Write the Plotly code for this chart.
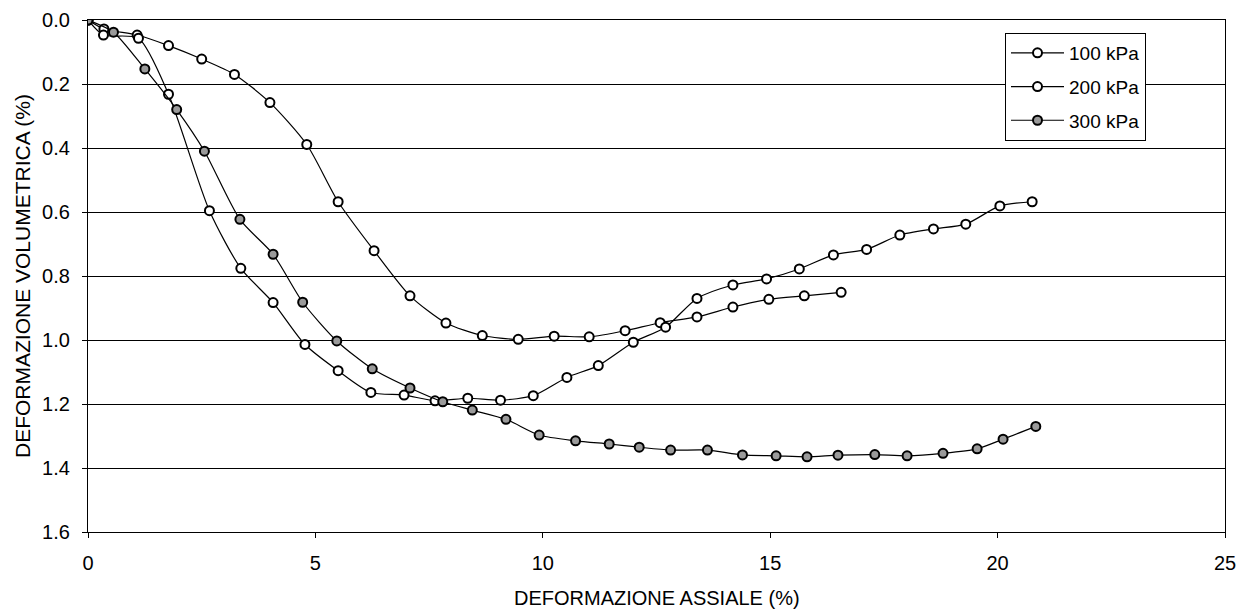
import plotly.graph_objects as go

# Data
x_100 = [0.0, 0.35, 1.08, 1.77, 2.50, 3.22, 4.00, 4.81, 5.50, 6.29, 7.08, 7.87, 8.67,
         9.46, 10.25, 11.02, 11.81, 12.58, 13.39, 14.18, 14.97, 15.75, 16.56]
y_100 = [0.0, 0.028, 0.047, 0.080, 0.122, 0.170, 0.258, 0.389, 0.568, 0.721, 0.862, 0.947, 0.986,
         0.998, 0.988, 0.990, 0.971, 0.946, 0.928, 0.897, 0.873, 0.862, 0.851]

x_200 = [0.0, 0.34, 1.11, 1.77, 2.67, 3.36, 4.07, 4.77, 5.50, 6.22, 6.95, 7.63, 8.35,
         9.07, 9.79, 10.53, 11.22, 11.99, 12.70, 13.39, 14.18, 14.92, 15.64, 16.39,
         17.12, 17.85, 18.59, 19.30, 20.05, 20.76]
y_200 = [0.0, 0.047, 0.057, 0.232, 0.596, 0.776, 0.883, 1.014, 1.096, 1.164, 1.172, 1.190, 1.182,
         1.188, 1.174, 1.117, 1.080, 1.007, 0.960, 0.870, 0.828, 0.809, 0.778, 0.734,
         0.717, 0.672, 0.653, 0.638, 0.581, 0.568]

x_300 = [0.0, 0.56, 1.25, 1.95, 2.56, 3.34, 4.07, 4.72, 5.47, 6.25, 7.08, 7.80, 8.45,
         9.19, 9.92, 10.72, 11.46, 12.12, 12.81, 13.62, 14.39, 15.13, 15.81, 16.49,
         17.30, 18.01, 18.80, 19.55, 20.12, 20.84]
y_300 = [0.0, 0.038, 0.153, 0.280, 0.410, 0.623, 0.732, 0.882, 1.003, 1.090, 1.150, 1.193, 1.219,
         1.248, 1.297, 1.315, 1.325, 1.335, 1.344, 1.344, 1.359, 1.362, 1.365, 1.360,
         1.358, 1.362, 1.354, 1.340, 1.310, 1.270]

series_names = ["100 kPa", "200 kPa", "300 kPa"]
x_ticks = [0, 5, 10, 15, 20, 25]
y_ticks = [0.0, 0.2, 0.4, 0.6, 0.8, 1.0, 1.2, 1.4, 1.6]
x_title = "DEFORMAZIONE ASSIALE (%)"
y_title = "DEFORMAZIONE VOLUMETRICA (%)"

FONT = "Liberation Sans, Arial, sans-serif"
# the page body has an 8px margin, so the figure is sized to fill the rest of the window
W, H = 1238, 603
ML, MR, MT, MB = 80, 21, 12, 79
PW, PH = W - ML - MR, H - MT - MB

fig = go.Figure()
data = [(x_100, y_100, "white"), (x_200, y_200, "white"), (x_300, y_300, "#9a9a9a")]
for name, (xs, ys, fill) in zip(series_names, data):
    fig.add_trace(go.Scatter(
        x=xs, y=ys, name=name, mode="lines+markers", legendgroup=name,
        line=dict(color="black", width=1.2, shape="spline", smoothing=0.7),
        marker=dict(symbol="circle", size=9, color=fill,
                    line=dict(color="black", width=2)),
    ))

fig.update_layout(
    width=W, height=H,
    margin=dict(l=ML, r=MR, t=MT, b=MB, autoexpand=False),
    paper_bgcolor="white", plot_bgcolor="white",
    font=dict(family=FONT, size=20, color="black"),
    showlegend=True,
    legend=dict(
        x=(997 - ML) / PW, y=1 - (25 - MT) / PH,
        xanchor="left", yanchor="top",
        bgcolor="white", bordercolor="black", borderwidth=1,
        font=dict(family=FONT, size=19, color="black"),
        tracegroupgap=6, itemwidth=53,
    ),
    xaxis=dict(
        range=[0, 25], tickvals=x_ticks, ticktext=[str(v) for v in x_ticks],
        showgrid=False, zeroline=False, automargin=False,
        showline=True, mirror=True, linecolor="black", linewidth=1.2,
        ticks="outside", ticklen=5, tickcolor="black",
        ticklabelstandoff=8,
        tickfont=dict(family=FONT, size=20),
    ),
    yaxis=dict(
        range=[1.6, 0], tickvals=y_ticks, ticktext=[f"{v:.1f}" for v in y_ticks],
        showgrid=True, gridcolor="black", gridwidth=1,
        zeroline=False, automargin=False,
        showline=True, mirror=True, linecolor="black", linewidth=1.2,
        ticks="outside", ticklen=5, tickcolor="black",
        ticklabelstandoff=8,
        tickfont=dict(family=FONT, size=20),
    ),
    annotations=[
        dict(text=x_title, xref="paper", yref="paper",
             x=0.5, y=-(590 - (H - MB)) / PH,
             xanchor="center", yanchor="middle", showarrow=False,
             font=dict(family=FONT, size=20, color="black")),
        dict(text=y_title, xref="paper", yref="paper", textangle=-90,
             x=(14 - ML) / PW, y=0.5,
             xanchor="center", yanchor="middle", showarrow=False,
             font=dict(family=FONT, size=21, color="black")),
    ],
)

fig.write_html("out.html")
